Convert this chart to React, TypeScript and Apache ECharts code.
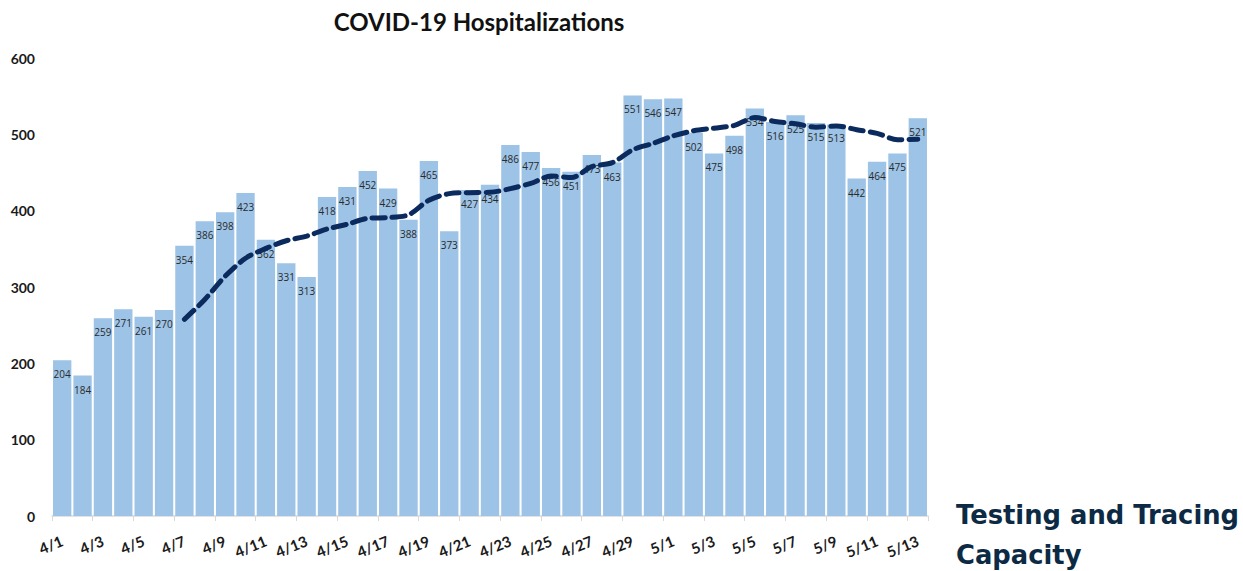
import React, { useEffect, useRef } from "react";
import * as echarts from "echarts";

const dates = [
  "4/1","4/2","4/3","4/4","4/5","4/6","4/7","4/8","4/9","4/10","4/11","4/12","4/13","4/14","4/15",
  "4/16","4/17","4/18","4/19","4/20","4/21","4/22","4/23","4/24","4/25","4/26","4/27","4/28","4/29","4/30",
  "5/1","5/2","5/3","5/4","5/5","5/6","5/7","5/8","5/9","5/10","5/11","5/12","5/13",
];

const hospitalizations = [
  204, 184, 259, 271, 261, 270, 354, 386, 398, 423, 362, 331, 313, 418, 431,
  452, 429, 388, 465, 373, 427, 434, 486, 477, 456, 451, 473, 463, 551, 546,
  547, 502, 475, 498, 534, 516, 525, 515, 513, 442, 464, 475, 521,
];

// dashed trend line (starts on 4/7)
const trend: (number | null)[] = [
  null, null, null, null, null, null, 257.6, 283.6, 314.1, 337.6, 350.6, 360.6, 366.7, 375.9, 382.3,
  390.0, 390.9, 394.6, 413.7, 422.3, 423.6, 424.0, 428.9, 435.7, 445.4, 443.4, 457.7, 462.9, 479.6, 488.1,
  498.1, 504.7, 508.1, 511.7, 521.9, 516.9, 513.9, 509.3, 510.9, 506.1, 501.3, 492.9, 493.6,
];

const yTicks = [0, 100, 200, 300, 400, 500, 600];

export default function App() {
  const ref = useRef<HTMLDivElement>(null);
  useEffect(() => {
    if (!ref.current) return;
    const chart = echarts.init(ref.current, undefined, { renderer: "svg" });
    chart.setOption({
      animation: false,
      backgroundColor: "#ffffff",
      title: {
        text: "COVID-19 Hospitalizations",
        left: 474,
        top: 4,
        textAlign: "center",
        textStyle: { fontFamily: "Lato", fontWeight: "bold", fontSize: 24, color: "#111111" },
      },
      grid: { left: 52, right: 315, top: 58, bottom: 55, containLabel: false },
      xAxis: {
        type: "category",
        data: dates,
        boundaryGap: true,
        axisLine: { show: true, lineStyle: { color: "#D9D9D9", width: 1.5 } },
        axisTick: { show: true, interval: 1, alignWithLabel: false, length: 5, lineStyle: { color: "#D9D9D9" } },
        axisLabel: {
          interval: 1,
          rotate: 22,
          margin: 24,
          fontFamily: "Lato",
          fontWeight: "bold",
          fontSize: 15,
          color: "#1a1a1a",
        },
      },
      yAxis: {
        type: "value",
        min: yTicks[0],
        max: yTicks[yTicks.length - 1],
        interval: 100,
        splitLine: { show: false },
        axisLine: { show: false },
        axisTick: { show: false },
        axisLabel: {
          margin: 17,
          fontFamily: "Lato",
          fontWeight: "bold",
          fontSize: 14,
          color: "#1a1a1a",
        },
      },
      series: [
        {
          type: "bar",
          data: hospitalizations,
          barCategoryGap: "10%",
          itemStyle: { color: "#9DC3E6" },
          label: {
            show: true,
            position: "insideTop",
            distance: 9,
            fontFamily: "Open Sans",
            fontSize: 10,
            color: "#2a2a2a",
          },
        },
        {
          type: "line",
          data: trend,
          smooth: 0.3,
          symbol: "none",
          connectNulls: false,
          lineStyle: { color: "#0B2A5E", width: 5, type: [13, 7], cap: "round" },
          z: 5,
        },
      ],
      graphic: [
        {
          type: "text",
          left: 956,
          top: 495,
          style: {
            text: "Testing and Tracing\nCapacity",
            fontFamily: "DejaVu Sans",
            fontWeight: "bold",
            fontSize: 25.8,
            lineHeight: 40,
            fill: "#0D2A45",
          },
        },
      ],
    });
    return () => chart.dispose();
  }, []);
  return (
    <div
      ref={ref}
      style={{ position: "fixed", left: 0, top: 0, width: 1243, height: 571 }}
    />
  );
}
